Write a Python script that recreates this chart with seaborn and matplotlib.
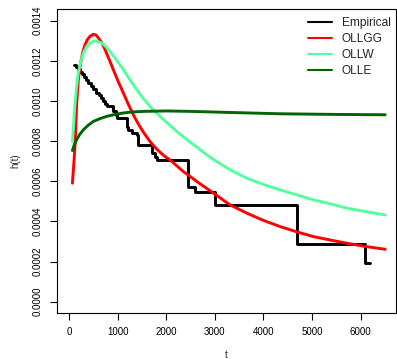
import numpy as np
import pandas as pd
import matplotlib
matplotlib.use("Agg")
import matplotlib.pyplot as plt
from matplotlib import font_manager
from matplotlib.lines import Line2D
import seaborn as sns

# Empirical hazard (step function, value holds until the next time)
emp_t = [109, 150, 190, 230, 270, 310, 350, 398, 450, 500, 560, 610, 660, 706,
         745, 776, 912, 960, 985, 1188, 1215, 1290, 1400, 1425, 1703, 1771, 1806,
         2451, 2595, 3007, 4696, 6097, 6200]
emp_h = [0.001181, 0.001170, 0.001158, 0.001146, 0.001133, 0.001120, 0.001106,
         0.001090, 0.001073, 0.001058, 0.001042, 0.001030, 0.001013, 0.000998,
         0.000985, 0.000973, 0.000948, 0.000930, 0.000915, 0.000870, 0.000856,
         0.000840, 0.000832, 0.000782, 0.000740, 0.000723, 0.000705,
         0.000572, 0.000547, 0.000482, 0.000288, 0.000193, 0.000193]

# Fitted hazard curves
ollgg_t = [70, 100, 124, 159, 190, 227, 280, 330, 380, 433, 501, 560, 604, 680,
           742, 830, 912, 1010, 1118, 1220, 1324, 1430, 1530, 1660, 1806, 1950,
           2100, 2354, 2492, 2630, 2972, 3316, 3660, 4000, 4346, 4700, 5032,
           5400, 5720, 6100, 6509]
ollgg_h = [0.000590, 0.000690, 0.000780, 0.000990, 0.001100, 0.001172, 0.001240,
           0.001280, 0.001306, 0.001322, 0.001332, 0.001328, 0.001314, 0.001288,
           0.001256, 0.001205, 0.001156, 0.001098, 0.001040, 0.000984, 0.000931,
           0.000884, 0.000845, 0.000800, 0.000760, 0.000728, 0.000702, 0.000648,
           0.000624, 0.000599, 0.000541, 0.000482, 0.000441, 0.000405, 0.000374,
           0.000347, 0.000324, 0.000306, 0.000291, 0.000275, 0.000261]

ollw_t = [70, 100, 124, 159, 192, 240, 295, 360, 433, 536, 674, 760, 845, 980,
          1118, 1260, 1394, 1530, 1668, 1800, 1942, 2080, 2218, 2360, 2492,
          2630, 2800, 2972, 3316, 3660, 4000, 4346, 4700, 5032, 5400, 5720,
          6100, 6509]
ollw_h = [0.000798, 0.000900, 0.000990, 0.001080, 0.001139, 0.001195, 0.001239,
          0.001270, 0.001289, 0.001300, 0.001289, 0.001270, 0.001247, 0.001203,
          0.001156, 0.001104, 0.001056, 0.001012, 0.000973, 0.000940, 0.000908,
          0.000878, 0.000848, 0.000820, 0.000795, 0.000770, 0.000738, 0.000708,
          0.000657, 0.000615, 0.000584, 0.000557, 0.000531, 0.000507, 0.000486,
          0.000466, 0.000449, 0.000432]

olle_t = [70, 110, 159, 220, 295, 390, 501, 640, 777, 950, 1118, 1300, 1530,
          2012, 2492, 3400, 4346, 5400, 6509]
olle_h = [0.000753, 0.000782, 0.000807, 0.000833, 0.000856, 0.000878, 0.000898,
          0.000912, 0.000923, 0.000933, 0.000940, 0.000945, 0.000948,
          0.000950, 0.000948, 0.000942, 0.000936, 0.000933, 0.000931]

series_names = ["Empirical", "OLLGG", "OLLW", "OLLE"]
series_colors = ["#000000", "#FF0000", "#54FF9F", "#006400"]

x_ticks = [0, 1000, 2000, 3000, 4000, 5000, 6000]
y_ticks = [0.0000, 0.0002, 0.0004, 0.0006, 0.0008, 0.0010, 0.0012, 0.0014]

sns.set_style("ticks")

# Use the regular (not narrow) Liberation Sans face, registered under its own name
font_name = "DejaVu Sans"
for path in font_manager.findSystemFonts():
    if path.endswith("LiberationSans-Regular.ttf"):
        font_manager.fontManager.addfont(path)
        font_name = font_manager.FontProperties(fname=path).get_name()
        break
plt.rcParams["font.family"] = [font_name, "DejaVu Sans"]
fp = font_manager.FontProperties(family=[font_name, "DejaVu Sans"], size=7.0)
fp_leg = font_manager.FontProperties(family=[font_name, "DejaVu Sans"], size=8.6)

W, H = 397, 359
fig = plt.figure(figsize=(W / 100, H / 100), dpi=100)
ax = fig.add_axes([57 / W, 1 - 313 / H, (395.5 - 57) / W, (313 - 9) / H])

lw = 2.1
emp = pd.DataFrame({"t": emp_t, "h": emp_h})
sns.lineplot(data=emp, x="t", y="h", ax=ax, color=series_colors[0], lw=lw,
             drawstyle="steps-post", estimator=None, sort=False)
for t, h, c in [(ollgg_t, ollgg_h, series_colors[1]),
                (ollw_t, ollw_h, series_colors[2]),
                (olle_t, olle_h, series_colors[3])]:
    df = pd.DataFrame({"t": t, "h": h})
    sns.lineplot(data=df, x="t", y="h", ax=ax, color=c, lw=lw,
                 estimator=None, sort=False)

ax.set_xlim(-247, 6720)
ax.set_ylim(-0.0000565, 0.001458)
ax.set_xticks(x_ticks)
ax.set_xticklabels([str(v) for v in x_ticks], fontproperties=fp)
ax.set_yticks(y_ticks)
ax.set_yticklabels([f"{v:.4f}" for v in y_ticks], rotation=90, va="center",
                   fontproperties=fp)

for s in ax.spines.values():
    s.set_visible(True)
    s.set_color("black")
    s.set_linewidth(0.8)

ax.tick_params(axis="both", direction="out", length=5, width=0.8,
               colors="black")
ax.tick_params(axis="x", pad=5)
ax.tick_params(axis="y", pad=5)

ax.set_xlabel("t", fontproperties=fp)
ax.set_ylabel("h(t)", fontproperties=fp)
ax.xaxis.set_label_coords(0.5, (313 - 355) / 304)
ax.xaxis.label.set_va("center")
ax.yaxis.set_label_coords((15 - 57) / 338.5, 0.5)
ax.yaxis.label.set_va("center")

handles = [Line2D([], [], color=c, lw=1.5) for c in series_colors]
ax.legend(handles, series_names, loc="upper left", frameon=False,
          bbox_to_anchor=((308 - 57) / 338.5, 1 - (17 - 9) / 304),
          prop=fp_leg, handlelength=2.0, handletextpad=0.84,
          labelspacing=0.33, borderaxespad=0, borderpad=0)

fig.savefig("out.png", dpi=100)
